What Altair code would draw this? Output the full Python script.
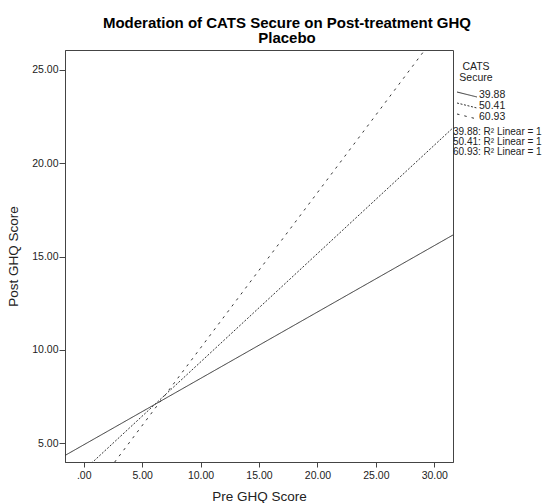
import altair as alt
import pandas as pd

# ---- data ----
series = ["39.88", "50.41", "60.93"]
x_left = -1.6
x_right = 31.6
y_at_left = [4.35, 2.62, 0.46]
y_at_right = [16.16, 21.9, 28.08]

x_ticks = [0, 5, 10, 15, 20, 25, 30]
y_ticks = [5, 10, 15, 20, 25]
x_domain = [-1.6, 31.6]
y_domain = [4.0, 26.07]

r2_labels = [f"{s}: R\u00b2 Linear = 1" for s in series]
legend_title = ["CATS", "Secure"]

FONT = "Liberation Sans"
INK = "#222222"
FRAME = "#444444"

rows = []
for s, a, b in zip(series, y_at_left, y_at_right):
    rows.append({"series": s, "pre": x_left, "post": a})
    rows.append({"series": s, "pre": x_right, "post": b})
lines_df = pd.DataFrame(rows)

dash_scale = alt.Scale(domain=series, range=[[1, 0], [2, 1.6], [2.5, 5]])

label_expr = "datum.value == 0 ? '.00' : format(datum.value, '.2f')"

lines = alt.Chart(lines_df).mark_line(clip=True, strokeWidth=1, color="#333333").encode(
    x=alt.X("pre:Q", scale=alt.Scale(domain=x_domain, nice=False, zero=False),
            axis=alt.Axis(title="Pre GHQ Score", values=x_ticks, labelExpr=label_expr,
                          tickSize=5, labelPadding=3, titlePadding=9)),
    y=alt.Y("post:Q", scale=alt.Scale(domain=y_domain, nice=False, zero=False),
            axis=alt.Axis(title="Post GHQ Score", values=y_ticks, labelExpr=label_expr,
                          tickSize=6, labelPadding=1, titlePadding=11)),
    strokeDash=alt.StrokeDash("series:N", scale=dash_scale, legend=None),
    detail="series:N",
)

# ---- manual legend (pixel positions relative to plot origin) ----
leg_df = pd.DataFrame({"series": series, "i": list(range(len(series)))})
leg_sym = alt.Chart(leg_df).mark_rule(strokeWidth=1, color="#333333").transform_calculate(
    x1="392", x2="412", y1="42 + 11*datum.i", y2="47 + 11*datum.i"
).encode(
    x=alt.X("x1:Q", scale=None), x2="x2:Q",
    y=alt.Y("y1:Q", scale=None), y2="y2:Q",
    strokeDash=alt.StrokeDash("series:N", scale=dash_scale, legend=None),
)
leg_lab = alt.Chart(leg_df).mark_text(
    align="left", baseline="alphabetic", font=FONT, fontSize=10.5, color=INK
).transform_calculate(tx="414", ty="48 + 11*datum.i").encode(
    x=alt.X("tx:Q", scale=None), y=alt.Y("ty:Q", scale=None), text="series:N"
)

title_df = pd.DataFrame({"t": legend_title, "i": list(range(len(legend_title)))})
leg_title = alt.Chart(title_df).mark_text(
    align="center", baseline="alphabetic", font=FONT, fontSize=10.5, color=INK
).transform_calculate(tx="411", ty="20 + 11*datum.i").encode(
    x=alt.X("tx:Q", scale=None), y=alt.Y("ty:Q", scale=None), text="t:N"
)

r2_df = pd.DataFrame({"t": r2_labels, "i": list(range(len(r2_labels)))})
r2_text = alt.Chart(r2_df).mark_text(
    align="left", baseline="alphabetic", font=FONT, fontSize=10, color=INK
).transform_calculate(tx="388", ty="85 + 10*datum.i").encode(
    x=alt.X("tx:Q", scale=None), y=alt.Y("ty:Q", scale=None), text="t:N"
)

chart = alt.layer(lines, leg_sym, leg_lab, leg_title, r2_text).properties(
    width=388,
    height=412,
    padding={"left": 65, "top": 50, "right": 94, "bottom": 41},
    autosize=alt.AutoSizeParams(type="none"),
    background="white",
    title=alt.TitleParams(
        text=["Moderation of CATS Secure on Post-treatment GHQ", "Placebo"],
        font=FONT, fontSize=15, fontWeight="bold", color="#000000",
        anchor="middle", dx=28, offset=-11, baseline="bottom", lineHeight=15,
    ),
).configure_view(
    stroke=FRAME, strokeWidth=1
).configure_axis(
    grid=False, domainColor=FRAME, tickColor=FRAME, labelColor=INK, titleColor=INK,
    labelFont=FONT, titleFont=FONT, labelFontSize=10.5, titleFontSize=13.5,
    titleFontWeight="normal",
)

chart.save("out.html", embed_options={"renderer": "svg", "actions": False})
